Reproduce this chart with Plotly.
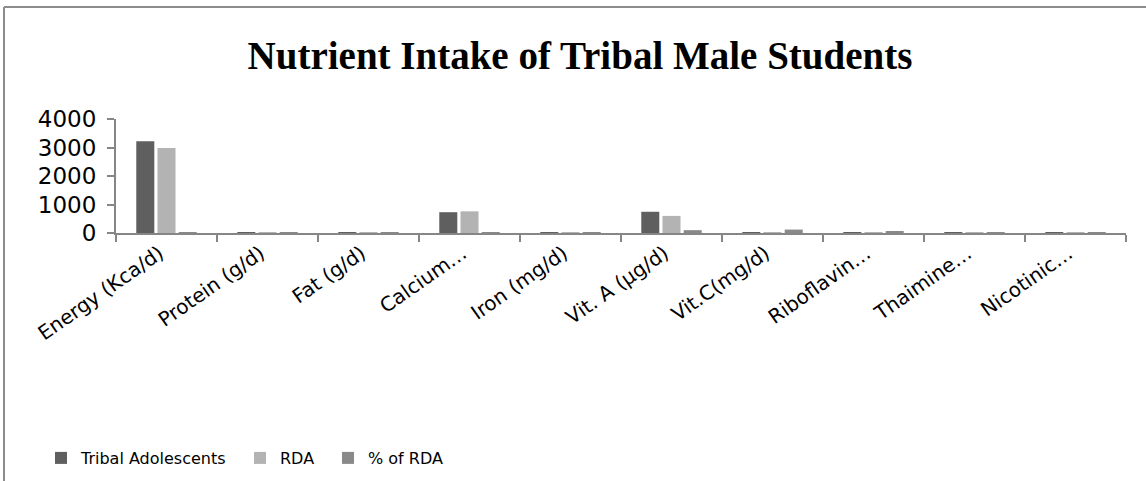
import plotly.graph_objects as go

# chart data
nutrients = ["Energy (Kca/d)", "Protein (g/d)", "Fat (g/d)", "Calcium…", "Iron (mg/d)",
             "Vit. A (µg/d)", "Vit.C(mg/d)", "Riboflavin…", "Thaimine…", "Nicotinic…"]
tribal = [3220, 20, 15, 730, 12, 745, 20, 5, 5, 10]
rda = [2980, 25, 20, 760, 15, 600, 25, 5, 5, 15]
pct_rda = [20, 20, 15, 25, 20, 100, 120, 70, 30, 30]

series_names = ["Tribal Adolescents", "RDA", "% of RDA"]
colors = ["#5f5f5f", "#b3b3b3", "#898989"]

W, H = 1146, 481
ML, MR, MT, MB = 116, 20, 119, 248
PW, PH = W - ML - MR, H - MT - MB


def px_x(x):
    # page pixel -> paper x
    return (x - ML) / PW


def px_y(y):
    # page pixel -> paper y
    return (H - MB - y) / PH


fig = go.Figure()
for i, (name, vals) in enumerate(zip(series_names, [tribal, rda, pct_rda])):
    fig.add_trace(go.Bar(
        x=nutrients, y=vals, name=name,
        marker=dict(color=colors[i], line=dict(width=0)),
        legend="legend" if i == 0 else f"legend{i + 1}",
    ))

legend_font = dict(family="DejaVu Sans", size=16, color="#000000")
legend_x = [41, 240, 328]
legends = {}
for i, lx in enumerate(legend_x):
    key = "legend" if i == 0 else f"legend{i + 1}"
    legends[key] = dict(
        x=px_x(lx), y=px_y(458), xanchor="left", yanchor="middle",
        orientation="h", font=legend_font, bgcolor="rgba(0,0,0,0)",
        itemwidth=30,
    )

border = "#8c8c8c"
fig.update_layout(
    width=W, height=H,
    margin=dict(l=ML, r=MR, t=MT, b=MB, autoexpand=False),
    paper_bgcolor="#ffffff", plot_bgcolor="#ffffff",
    title=dict(
        text="<b>Nutrient Intake of Tribal Male Students</b>",
        x=580 / W, xanchor="center", xref="container",
        y=1 - 55 / H, yanchor="middle", yref="container",
        font=dict(family="Liberation Serif", size=39, color="#000000"),
    ),
    barmode="group", bargap=0.37, bargroupgap=0.15,
    showlegend=True,
    **legends,
    shapes=[
        dict(type="line", xref="paper", yref="paper",
             x0=px_x(4), x1=px_x(4), y0=px_y(7), y1=px_y(H + 5),
             line=dict(color=border, width=2)),
        dict(type="line", xref="paper", yref="paper",
             x0=px_x(4), x1=px_x(W + 5), y0=px_y(7), y1=px_y(7),
             line=dict(color=border, width=2)),
    ],
)

fig.update_xaxes(
    automargin=False,
    showline=True, linecolor="#868686", linewidth=2,
    ticks="outside", tickson="boundaries", ticklen=7, tickcolor="#868686", tickwidth=2,
    tickangle=-35, showgrid=False,
    ticklabelshift=-7, ticklabelstandoff=-1,
    tickfont=dict(family="DejaVu Sans", size=20, color="#000000"),
)
fig.update_yaxes(
    automargin=False,
    range=[0, 4000], dtick=1000, showgrid=False,
    showline=True, linecolor="#868686", linewidth=2,
    ticks="outside", ticklen=7, tickcolor="#868686", tickwidth=2,
    ticklabelstandoff=6,
    tickfont=dict(family="DejaVu Sans", size=23, color="#000000"),
)

# drop the browser's default body margin so the figure sits at the page origin
fig.write_html("out.html", config={"displayModeBar": False},
               post_script="document.body.style.margin = '0';")
